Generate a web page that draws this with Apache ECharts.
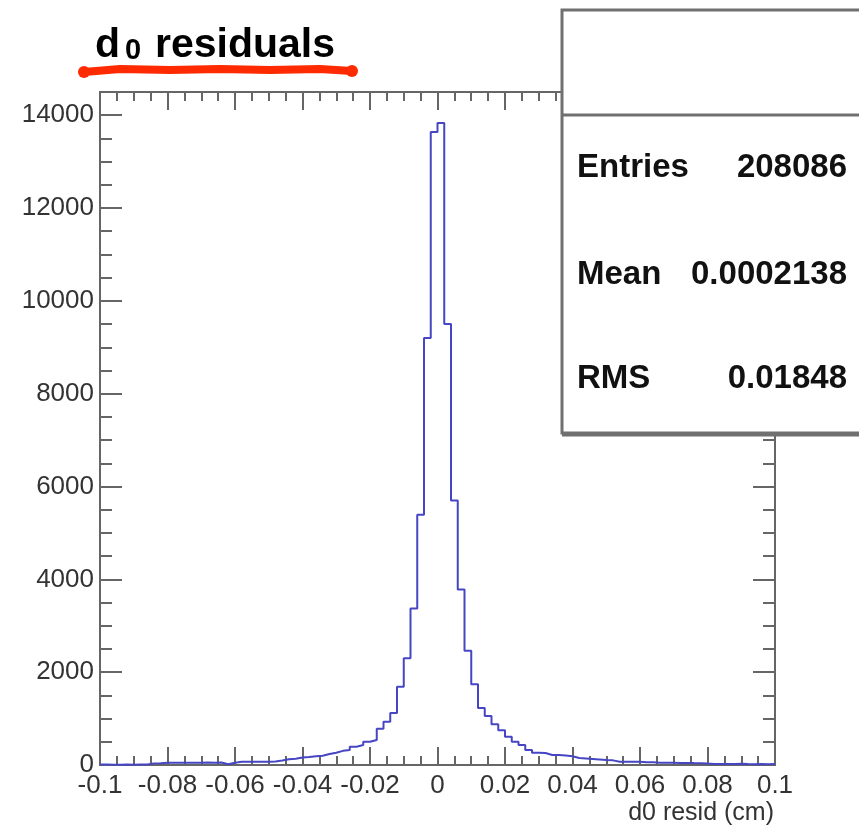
<!DOCTYPE html>
<html>
<head>
<meta charset="utf-8">
<script src="https://cdn.jsdelivr.net/npm/echarts@6/dist/echarts.min.js"></script>
<style>
    html, body { margin: 0; padding: 0; background: #fff; }
    #main { width: 859px; height: 828px; }
</style>
</head>
<body>
<div id="main"></div>
<script>
/**
 * d0 residuals histogram (100 bins, -0.1 .. 0.1 cm)
 */
var binMin = -0.1;
var binMax = 0.1;
var binWidth = 0.002;
// bins from -0.1 up to 0
var countsNeg = [
    10, 6, 8, 12, 8, 10, 12, 35, 40, 48,
    50, 50, 48, 50, 50, 52, 50, 55, 15, 50,
    68, 70, 72, 70, 72, 75, 95, 125, 135, 160,
    170, 190, 200, 237, 265, 305, 325, 395, 430, 500,
    540, 780, 933, 1120, 1687, 2300, 3370, 5390, 9200, 13640
];
// bins from 0 up to 0.1
var countsPos = [
    13830, 9500, 5700, 3780, 2460, 1740, 1230, 1055, 880, 750,
    610, 500, 430, 323, 265, 258, 215, 215, 205, 190,
    150, 140, 130, 120, 108, 100, 72, 70, 70, 68,
    60, 60, 50, 50, 48, 45, 45, 42, 40, 30,
    22, 20, 22, 20, 28, 20, 18, 20, 15, 20
];
var statNames = ['Entries', 'Mean', 'RMS'];
var statValues = ['208086', '0.0002138', '0.01848'];

var fontName = 'Liberation Sans';
var frameColor = '#666';

// step points at each bin's low edge, plus the closing edge
var counts = countsNeg.concat(countsPos);
var points = counts.map(function (c, i) {
    return [+(binMin + i * binWidth).toFixed(4), c];
});
points.push([binMax, counts[counts.length - 1]]);

function xAxisOpt(pos, labels) {
    return {
        type: 'value', position: pos, min: binMin, max: binMax, interval: 0.02,
        axisLine: {show: true, onZero: false, lineStyle: {color: frameColor, width: 2}},
        axisTick: {show: true, inside: true, length: 18, lineStyle: {color: frameColor, width: 2}},
        minorTick: {show: true, splitNumber: 4, length: 9, lineStyle: {color: frameColor, width: 2}},
        splitLine: {show: false},
        axisLabel: {
            show: labels, fontSize: 26, fontFamily: fontName, color: '#333', margin: 8,
            showMinLabel: true, showMaxLabel: true, hideOverlap: false,
            formatter: function (v) { return String(+v.toFixed(3)); }
        }
    };
}
function yAxisOpt(pos, step, tickLen, labels) {
    return {
        type: 'value', position: pos, min: 0, max: 14500, interval: step,
        axisLine: {show: true, onZero: false, lineStyle: {color: frameColor, width: 2}},
        axisTick: {show: true, inside: true, length: tickLen, lineStyle: {color: frameColor, width: 2}},
        splitLine: {show: false},
        axisLabel: {
            show: labels, fontSize: 26, fontFamily: fontName, color: '#333', margin: 6,
            showMaxLabel: false, showMinLabel: true, hideOverlap: false,
            formatter: function (v) { return String(Math.round(v)); }
        }
    };
}

var chart = echarts.init(document.getElementById('main'), null, {renderer: 'canvas'});
var option = {
    animation: false,
    backgroundColor: '#fff',
    grid: {left: 100, right: 84, top: 92, bottom: 63, containLabel: false, outerBoundsMode: 'none'},
    xAxis: [xAxisOpt('bottom', true), xAxisOpt('top', false)],
    yAxis: [
        yAxisOpt('left', 2000, 22, true),
        yAxisOpt('left', 500, 12, false),
        yAxisOpt('right', 2000, 22, false),
        yAxisOpt('right', 500, 12, false)
    ],
    series: [{
        type: 'line',
        step: 'end',
        xAxisIndex: 0,
        yAxisIndex: 0,
        symbol: 'none',
        lineStyle: {color: '#4646c4', width: 2},
        data: points
    }],
    graphic: [
        // title d0 residuals
        {type: 'text', x: 95, y: 46, style: {text: 'd', fontSize: 41, fontWeight: 'bold', fontFamily: fontName, fill: '#000', align: 'left', verticalAlign: 'middle'}},
        {type: 'text', x: 125, y: 51, style: {text: '0', fontSize: 29, fontWeight: 'bold', fontFamily: fontName, fill: '#000', align: 'left', verticalAlign: 'middle'}},
        {type: 'text', x: 155, y: 46, style: {text: 'residuals', fontSize: 41, fontWeight: 'bold', fontFamily: fontName, fill: '#000', align: 'left', verticalAlign: 'middle'}},
        // red underline
        {type: 'polyline', shape: {points: [[84, 72], [120, 69], [170, 70], [220, 69], [270, 70], [320, 69], [352, 71]]},
            style: {stroke: '#ff2a00', lineWidth: 8, lineCap: 'round', lineJoin: 'round', fill: null}},
        {type: 'circle', shape: {cx: 84, cy: 72, r: 6}, style: {fill: '#ff2a00'}},
        {type: 'circle', shape: {cx: 352, cy: 71, r: 6}, style: {fill: '#ff2a00'}},
        // axis title
        {type: 'text', x: 774, y: 813, style: {text: 'd0 resid (cm)', fontSize: 25, fontFamily: fontName, fill: '#333', align: 'right', verticalAlign: 'middle'}},
        // stats box
        {type: 'rect', z: 100, shape: {x: 562, y: 10, width: 320, height: 423}, style: {fill: '#fff', stroke: '#707070', lineWidth: 3}},
        {type: 'line', z: 101, shape: {x1: 562, y1: 435, x2: 870, y2: 435}, style: {stroke: '#707070', lineWidth: 3}},
        {type: 'line', z: 101, shape: {x1: 562, y1: 115, x2: 870, y2: 115}, style: {stroke: '#707070', lineWidth: 3}},
        {type: 'text', z: 102, x: 577, y: 168, style: {text: statNames[0], fontSize: 33, fontWeight: 'bold', fontFamily: fontName, fill: '#111', align: 'left', verticalAlign: 'middle'}},
        {type: 'text', z: 102, x: 847, y: 168, style: {text: statValues[0], fontSize: 33, fontWeight: 'bold', fontFamily: fontName, fill: '#111', align: 'right', verticalAlign: 'middle'}},
        {type: 'text', z: 102, x: 577, y: 275, style: {text: statNames[1], fontSize: 33, fontWeight: 'bold', fontFamily: fontName, fill: '#111', align: 'left', verticalAlign: 'middle'}},
        {type: 'text', z: 102, x: 847, y: 275, style: {text: statValues[1], fontSize: 33, fontWeight: 'bold', fontFamily: fontName, fill: '#111', align: 'right', verticalAlign: 'middle'}},
        {type: 'text', z: 102, x: 577, y: 379, style: {text: statNames[2], fontSize: 33, fontWeight: 'bold', fontFamily: fontName, fill: '#111', align: 'left', verticalAlign: 'middle'}},
        {type: 'text', z: 102, x: 847, y: 379, style: {text: statValues[2], fontSize: 33, fontWeight: 'bold', fontFamily: fontName, fill: '#111', align: 'right', verticalAlign: 'middle'}}
    ]
};
chart.setOption(option);

window.addEventListener('resize', function () {
    chart.resize();
});
</script>
</body>
</html>
